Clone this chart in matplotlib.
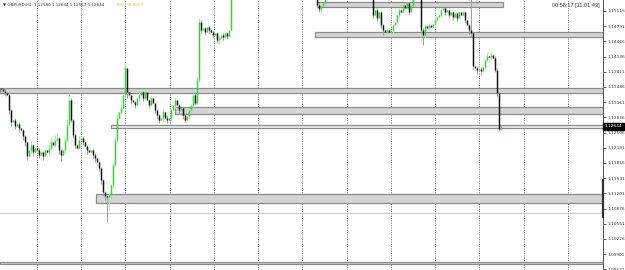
import matplotlib
matplotlib.use("Agg")
import matplotlib.pyplot as plt
import matplotlib.transforms as mtransforms
from matplotlib.patches import Rectangle

# ---------------- data ----------------
symbol_header = "▼ GBPUSD,H1  1.12580 1.12644 1.12567 1.12644"
indicator_text = "RSI: 38.9057"
timer_text = "00:58:17 [11:01:43]"

first_open = 1.1346
closes = [
    1.1344, 1.1340, 1.1336, 1.1331, 1.1299, 1.1273, 1.1278, 1.1265, 1.1269, 1.1261,
    1.1256, 1.1243, 1.1230, 1.1200, 1.1213, 1.1224, 1.1209, 1.1218, 1.1213, 1.1203,
    1.1209, 1.1200, 1.1213, 1.1209, 1.1218, 1.1230, 1.1224, 1.1235, 1.1239, 1.1213,
    1.1203, 1.1213, 1.1235, 1.1267, 1.1321, 1.1278, 1.1245, 1.1224, 1.1218, 1.1235,
    1.1239, 1.1230, 1.1222, 1.1213, 1.1209, 1.1213, 1.1203, 1.1196, 1.1188, 1.1175,
    1.1149, 1.1123, 1.1115, 1.1112, 1.1117, 1.1138, 1.1181, 1.1235, 1.1282, 1.1295,
    1.1303, 1.1331, 1.1389, 1.1338, 1.1331, 1.1321, 1.1316, 1.1310, 1.1325, 1.1331,
    1.1338, 1.1325, 1.1338, 1.1321, 1.1310, 1.1325, 1.1314, 1.1299, 1.1288, 1.1278,
    1.1282, 1.1295, 1.1282, 1.1278, 1.1282, 1.1299, 1.1310, 1.1321, 1.1310, 1.1299,
    1.1303, 1.1288, 1.1278, 1.1286, 1.1299, 1.1310, 1.1331, 1.1314, 1.1364, 1.1488,
    1.1471, 1.1475, 1.1467, 1.1477, 1.1471, 1.1467, 1.1460, 1.1464, 1.1449, 1.1454,
    1.1460, 1.1456, 1.1464, 1.1458, 1.1471, 1.1545,
    # above the visible range
    1.1552, 1.1560, 1.1558, 1.1566, 1.1571, 1.1569, 1.1578, 1.1585, 1.1580, 1.1590,
    1.1596, 1.1592, 1.1600, 1.1605, 1.1598, 1.1604, 1.1610, 1.1606, 1.1612, 1.1608,
    1.1600, 1.1603, 1.1595, 1.1590, 1.1594, 1.1586, 1.1580, 1.1584, 1.1577, 1.1572,
    1.1575, 1.1568, 1.1563, 1.1566, 1.1560, 1.1556, 1.1559, 1.1553, 1.1549, 1.1551,
    1.1546, 1.1541,
    1.1525, 1.1516, 1.1522, 1.1529, 1.1538,
    1.1545, 1.1552, 1.1549, 1.1557, 1.1563, 1.1560, 1.1567, 1.1572, 1.1569, 1.1575,
    1.1571, 1.1566, 1.1569, 1.1562, 1.1558, 1.1561, 1.1555, 1.1550, 1.1553, 1.1548,
    1.1544, 1.1547, 1.1541,
    1.1503, 1.1514, 1.1497, 1.1509, 1.1482, 1.1471, 1.1467, 1.1471, 1.1467, 1.1471,
    1.1482, 1.1488, 1.1503, 1.1514, 1.1509, 1.1525, 1.1518, 1.1529, 1.1509, 1.1522,
    1.1540, 1.1547, 1.1552, 1.1546,
    1.1471, 1.1460, 1.1479, 1.1475, 1.1482, 1.1477, 1.1484, 1.1492, 1.1499, 1.1503,
    1.1514, 1.1518, 1.1509, 1.1514, 1.1503, 1.1509, 1.1499, 1.1507, 1.1497, 1.1509,
    1.1503, 1.1509, 1.1492, 1.1482, 1.1471, 1.1464, 1.1394, 1.1389, 1.1385, 1.1387,
    1.1383, 1.1391, 1.1406, 1.1415, 1.1413, 1.1417, 1.1411, 1.1385, 1.1336, 1.12580,
    1.12644,
]
# wicks: bar index -> (high, low)
wicks = {
    2: (1.1344, 1.1329), 4: (1.1338, 1.1290), 5: (1.1301, 1.1265), 7: (1.1282, 1.1258),
    9: (1.1273, 1.1252), 11: (1.1258, 1.1235), 12: (1.1245, 1.1222), 13: (1.1232, 1.1192),
    15: (1.1232, 1.1207), 16: (1.1226, 1.1200), 19: (1.1218, 1.1196), 21: (1.1211, 1.1192),
    24: (1.1224, 1.1203), 25: (1.1241, 1.1215), 27: (1.1245, 1.1220), 28: (1.1250, 1.1232),
    29: (1.1241, 1.1205), 30: (1.1215, 1.1190), 32: (1.1241, 1.1207), 33: (1.1280, 1.1230),
    34: (1.1335, 1.1267), 35: (1.1325, 1.1273), 36: (1.1280, 1.1239), 37: (1.1250, 1.1218),
    39: (1.1243, 1.1215), 41: (1.1243, 1.1224), 43: (1.1224, 1.1205), 46: (1.1215, 1.1196),
    47: (1.1207, 1.1188), 49: (1.1190, 1.1168), 50: (1.1177, 1.1140), 51: (1.1151, 1.1115),
    52: (1.1125, 1.1106), 53: (1.1117, 1.1059), 54: (1.1121, 1.1085), 55: (1.1140, 1.1106),
    56: (1.1185, 1.1132), 57: (1.1241, 1.1177), 58: (1.1290, 1.1230), 60: (1.1312, 1.1290),
    62: (1.1400, 1.1325), 63: (1.1389, 1.1325), 65: (1.1329, 1.1312), 67: (1.1318, 1.1303),
    69: (1.1342, 1.1318), 71: (1.1340, 1.1318), 72: (1.1344, 1.1320), 74: (1.1323, 1.1303),
    77: (1.1312, 1.1292), 78: (1.1301, 1.1280), 79: (1.1290, 1.1271), 81: (1.1301, 1.1275),
    83: (1.1288, 1.1271), 85: (1.1301, 1.1275), 87: (1.1325, 1.1303), 89: (1.1312, 1.1292),
    91: (1.1305, 1.1280), 92: (1.1290, 1.1273), 94: (1.1303, 1.1280), 96: (1.1335, 1.1305),
    97: (1.1335, 1.1310), 98: (1.1370, 1.1310), 99: (1.1497, 1.1360), 100: (1.1492, 1.1464),
    102: (1.1477, 1.1460), 104: (1.1479, 1.1462), 106: (1.1469, 1.1454),
    108: (1.1467, 1.1443), 109: (1.1458, 1.1441), 111: (1.1464, 1.1449),
    113: (1.1466, 1.1451), 159: (1.1531, 1.1509), 160: (1.1525, 1.1505),
    186: (1.1540, 1.1497), 188: (1.1518, 1.1490), 190: (1.1512, 1.1475),
    191: (1.1484, 1.1460), 193: (1.1475, 1.1462), 196: (1.1484, 1.1464),
    199: (1.1518, 1.1497), 204: (1.1531, 1.1503), 210: (1.1545, 1.1464),
    211: (1.1475, 1.1439), 212: (1.1484, 1.1454), 214: (1.1486, 1.1471),
    217: (1.1497, 1.1477), 220: (1.1518, 1.1499), 222: (1.1520, 1.1503),
    224: (1.1514, 1.1497), 226: (1.1512, 1.1492), 228: (1.1507, 1.1490),
    232: (1.1512, 1.1486), 234: (1.1484, 1.1462), 235: (1.1540, 1.1458),
    236: (1.1466, 1.1387), 238: (1.1394, 1.1376), 240: (1.1392, 1.1374),
    242: (1.1409, 1.1387), 243: (1.1422, 1.1404), 245: (1.1422, 1.1409),
    247: (1.1415, 1.1380), 248: (1.1389, 1.1329), 249: (1.1338, 1.1254),
    250: (1.12644, 1.12567),
}

# zones: (start bar, low price, high price, end bar or None = right edge)
zones = [
    (158, 1.15195, 1.15316, 251),
    (157, 1.14552, 1.14665, None),
    (-0.5, 1.13350, 1.13463, None),
    (87, 1.12905, 1.13049, None),
    (47.35, 1.11002, 1.11182, None),
    (-0.5, 1.09697, 1.09736, None),
]
thin_zone = (54.85, 1.12599, 1.12663)
level_line = 1.10774

price_ticks = [1.15116, 1.14791, 1.14466, 1.14136, 1.13811, 1.13486, 1.13161, 1.12836,
               1.12506, 1.12181, 1.11856, 1.11531, 1.11201, 1.10876, 1.10551, 1.10226,
               1.09901, 1.09571]
current_price = 1.12644

# ---------------- figure ----------------
W, H = 625, 270
fig = plt.figure(figsize=(W / 100, H / 100), dpi=100)
fig.patch.set_facecolor("white")
ax = fig.add_axes([0, 0, 603 / W, 1])
ymin, ymax = 1.09558, 1.15352
xmin, xmax = -0.5, 301
ax.set_xlim(xmin, xmax)
ax.set_ylim(ymin, ymax)
for s in ["top", "left", "bottom"]:
    ax.spines[s].set_visible(False)
ax.spines["right"].set_color("#505050")
ax.spines["right"].set_linewidth(0.7)

# vertical dotted grid
gx = 18.0
while gx < xmax:
    ax.axvline(gx, color="#8a8a8a", lw=0.7, ls=(0, (1.2, 1.2)), zorder=0)
    gx += 22.115

# zones
for (x0, lo, hi, x1) in zones:
    if x1 is None:
        x1 = xmax + 1
    ax.add_patch(Rectangle((x0, lo), x1 - x0, hi - lo, facecolor="#d4d4d4",
                           edgecolor="#8c8c8c", lw=0.9, zorder=1))
ax.add_patch(Rectangle((thin_zone[0], thin_zone[1]), xmax + 1 - thin_zone[0],
                       thin_zone[2] - thin_zone[1], facecolor="#ececec",
                       edgecolor="#8c8c8c", lw=0.9, zorder=1))
ax.axhline(level_line, color="#cfcfcf", lw=0.8, zorder=1)

# candles
opens = [first_open] + closes[:-1]
for i, (o, c) in enumerate(zip(opens, closes)):
    up = c >= o
    hi, lo = wicks.get(i, (max(o, c), min(o, c)))
    wc = "#a6e8a6" if up else "#a0a0a0"
    ax.vlines(i, lo, hi, colors=wc, lw=0.75, zorder=3)
    bc = "#2fd62f" if up else "#111111"
    top, bot = max(o, c), min(o, c)
    if top - bot < 0.00003:
        top += 0.000015
        bot -= 0.000015
    ax.vlines(i, bot, top, colors=bc, lw=1.05, zorder=4)

# right price axis
ax.yaxis.tick_right()
ax.set_yticks(price_ticks)
ax.set_yticklabels([f"{p:.5f}" for p in price_ticks])
ax.tick_params(axis="y", length=2, width=0.5, pad=1, labelsize=3.1,
               colors="#333333", direction="out")
ax.set_xticks([])

trans = mtransforms.blended_transform_factory(ax.transAxes, ax.transData)
ax.plot([1.0, 1.0], [1.10695, 1.11489], transform=trans, color="#303030",
        lw=1.6, clip_on=False, zorder=6)
ax.text(1.003, current_price, f"{current_price:.5f}", transform=trans,
        fontsize=3.1, color="white", ha="left", va="center", clip_on=False,
        zorder=7, bbox=dict(boxstyle="square,pad=0.35", fc="black", ec="black"))

# header texts
fig.text(3 / W, 1 - 5 / H, symbol_header, fontsize=3.0, color="#333333",
         ha="left", va="center", family="DejaVu Sans")
fig.text(117 / W, 1 - 5 / H, indicator_text, fontsize=3.0, color="#e8b830",
         ha="left", va="center")
fig.text(600 / W, 1 - 5 / H, timer_text, fontsize=4.0, color="#333333",
         ha="right", va="center", family="Liberation Sans")

fig.savefig("out.png", dpi=100, facecolor="white")
